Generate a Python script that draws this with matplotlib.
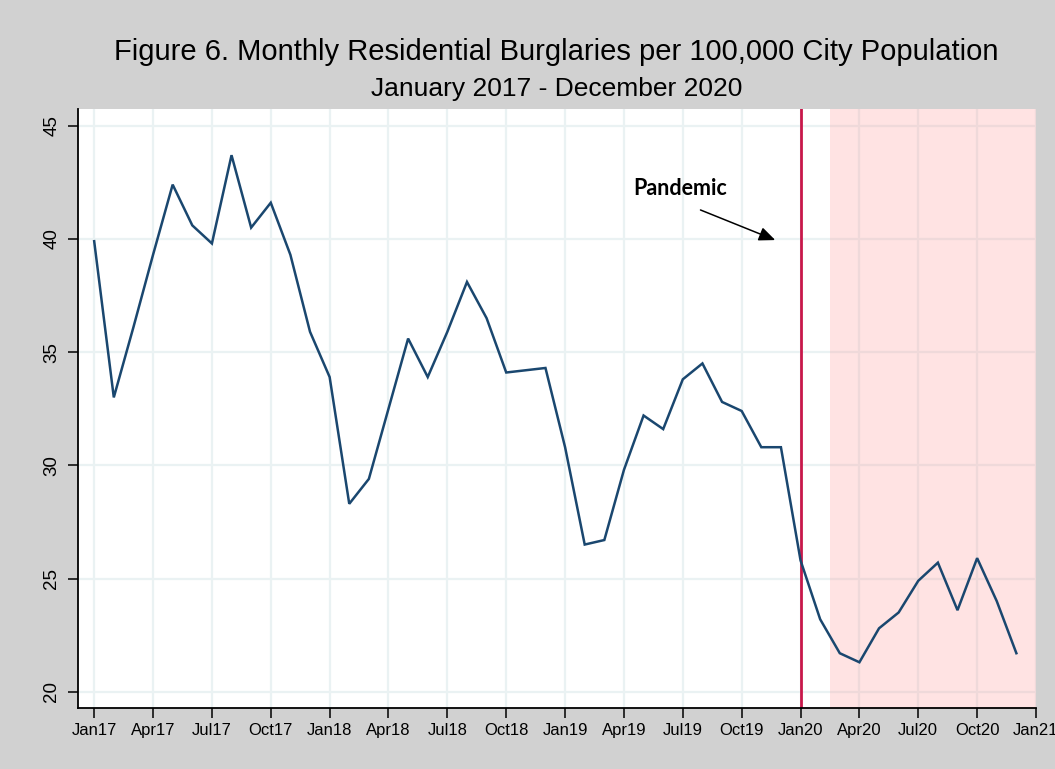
import matplotlib
matplotlib.use("Agg")
import matplotlib.pyplot as plt

# ---- data ----
months = list(range(48))  # Jan 2017 .. Dec 2020 (month index)
burglaries = [39.9, 33.0, 36.1, 39.3, 42.4, 40.6, 39.8, 43.7, 40.5, 41.6, 39.3, 35.9,
              33.9, 28.3, 29.4, 32.5, 35.6, 33.9, 35.9, 38.1, 36.5, 34.1, 34.2, 34.3,
              30.8, 26.5, 26.7, 29.8, 32.2, 31.6, 33.8, 34.5, 32.8, 32.4, 30.8, 30.8,
              25.8, 23.2, 21.7, 21.3, 22.8, 23.5, 24.9, 25.7, 23.6, 25.9, 24.0, 21.7]
tick_months = list(range(0, 49, 3))
tick_labels = ["Jan17", "Apr17", "Jul17", "Oct17", "Jan18", "Apr18", "Jul18", "Oct18",
               "Jan19", "Apr19", "Jul19", "Oct19", "Jan20", "Apr20", "Jul20", "Oct20", "Jan21"]
y_ticks = [20, 25, 30, 35, 40, 45]
pandemic_month = 36        # Jan20 vertical line
shade_start = 37.5         # mid-March 2020
shade_end = 48

title = "Figure 6. Monthly Residential Burglaries per 100,000 City Population"
subtitle = "January 2017 - December 2020"

W, H = 1055, 769
fig = plt.figure(figsize=(W / 100, H / 100), dpi=100)
bg = "#d1d1d1"
fig.patch.set_facecolor(bg)

left, right, top, bottom = 77.5, 1036, 109, 708
ax = fig.add_axes([left / W, 1 - bottom / H, (right - left) / W, (bottom - top) / H])
ax.set_facecolor("white")

ax.set_xlim(-0.85, 48)
ax.set_ylim(19.28, 45.74)

grid_c = "#eaf2f3"
ax.set_xticks(tick_months)
ax.set_xticklabels(tick_labels, fontfamily="Liberation Sans", fontsize=12)
ax.set_yticks(y_ticks)
ax.set_yticklabels([str(v) for v in y_ticks], fontfamily="Liberation Sans", fontsize=13.5,
                   rotation=90, va="center")
ax.grid(True, color=grid_c, linewidth=1.6, zorder=0)
ax.set_axisbelow(True)

ax.tick_params(axis="x", direction="out", length=7, width=1.1, pad=4, colors="black")
ax.tick_params(axis="y", direction="out", length=7.5, width=1.1, pad=5, colors="black")

for s in ["top", "right"]:
    ax.spines[s].set_visible(False)
for s in ["left", "bottom"]:
    ax.spines[s].set_linewidth(1.3)
    ax.spines[s].set_color("black")

# shaded pandemic period
ax.axvspan(shade_start, shade_end, color="#ff8c8c", alpha=0.24, lw=0, zorder=1.5)

# vertical line
ax.axvline(pandemic_month, color="#c8174a", linewidth=2.0, zorder=2)

# data line
ax.plot(months, burglaries, color="#1a476f", linewidth=1.8, zorder=3,
        solid_joinstyle="miter")

# annotation
ax.annotate("", xy=(34.71, 39.95), xytext=(30.9, 41.28),
            arrowprops=dict(arrowstyle="-|>,head_length=0.7,head_width=0.3",
                            color="black", lw=1.1, shrinkA=0, shrinkB=0,
                            mutation_scale=14), zorder=4)
ax.text(27.48, 42.25, "Pandemic", fontfamily="Lato", fontweight="bold", fontsize=15.5,
        ha="left", va="center", zorder=4)

cx = (left + right) / 2 / W
fig.text(cx, 1 - 52 / H, title, ha="center", va="center",
         fontfamily="Liberation Sans", fontsize=21)
fig.text(cx, 1 - 89 / H, subtitle, ha="center", va="center",
         fontfamily="Liberation Sans", fontsize=19)

fig.savefig("out.png", dpi=100, facecolor=bg)
